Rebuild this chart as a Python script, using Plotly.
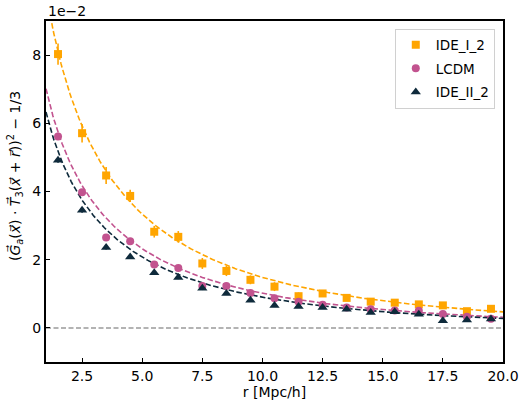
import numpy as np
import plotly.graph_objects as go

# Separation bins [Mpc/h]
r_bins = [1.5, 2.5, 3.5, 4.5, 5.5, 6.5, 7.5, 8.5, 9.5, 10.5,
          11.5, 12.5, 13.5, 14.5, 15.5, 16.5, 17.5, 18.5, 19.5]

# Alignment signal, in units of 1e-2
ide_i_2 = [8.03, 5.71, 4.47, 3.87, 2.82, 2.67, 1.89, 1.67, 1.41, 1.21,
           0.93, 1.01, 0.88, 0.77, 0.74, 0.69, 0.66, 0.49, 0.56]
ide_i_2_err = [0.31, 0.27, 0.25, 0.18, 0.17, 0.17, 0.16, 0.15, 0.13, 0.13,
               0.11, 0.10, 0.09, 0.09, 0.09, 0.09, 0.08, 0.08, 0.08]

lcdm = [5.61, 3.98, 2.65, 2.54, 1.86, 1.76, 1.23, 1.23, 1.02, 0.87,
        0.77, 0.68, 0.60, 0.55, 0.51, 0.50, 0.41, 0.33, 0.27]
lcdm_err = [0.08, 0.07, 0.06, 0.05, 0.05, 0.05, 0.05, 0.04, 0.04, 0.04,
            0.04, 0.04, 0.04, 0.04, 0.04, 0.04, 0.04, 0.04, 0.04]

ide_ii_2 = [4.92, 3.45, 2.36, 2.08, 1.62, 1.48, 1.16, 1.01, 0.81, 0.66,
            0.63, 0.60, 0.55, 0.45, 0.47, 0.40, 0.21, 0.23, 0.26]
ide_ii_2_err = [0.08, 0.07, 0.06, 0.05, 0.05, 0.05, 0.05, 0.04, 0.04, 0.04,
                0.04, 0.04, 0.04, 0.04, 0.04, 0.04, 0.04, 0.04, 0.04]

# Fitted model  A * exp(-B * sqrt(r))  (A in units of 1e-2)
fit_amp = {"IDE_I_2": 23.7, "LCDM": 17.17, "IDE_II_2": 15.6}
fit_rate = {"IDE_I_2": 0.877, "LCDM": 0.895, "IDE_II_2": 0.902}

x_ticks = [2.5, 5.0, 7.5, 10.0, 12.5, 15.0, 17.5, 20.0]
y_ticks = [0, 2, 4, 6, 8]

SCALE = 1e-2
colors = {"IDE_I_2": "#FFA500", "LCDM": "#C2538F", "IDE_II_2": "#0E2A3B"}
symbols = {"IDE_I_2": "square", "LCDM": "circle", "IDE_II_2": "triangle-up"}
sizes = {"IDE_I_2": 8, "LCDM": 8, "IDE_II_2": 9}
series = [("IDE_I_2", ide_i_2, ide_i_2_err),
          ("LCDM", lcdm, lcdm_err),
          ("IDE_II_2", ide_ii_2, ide_ii_2_err)]

fig = go.Figure()

# zero reference line
fig.add_trace(go.Scatter(x=[1, 20], y=[0, 0], mode="lines", showlegend=False,
                         line=dict(color="#9a9a9a", width=1.5, dash="5px,2.5px"),
                         hoverinfo="skip"))

r_fine = np.linspace(1, 20, 400)
for name, _, _ in series:
    model = fit_amp[name] * np.exp(-fit_rate[name] * np.sqrt(r_fine)) * SCALE
    fig.add_trace(go.Scatter(x=r_fine, y=model, mode="lines", showlegend=False,
                             line=dict(color=colors[name], width=1.6,
                                       dash="5.5px,2.5px"),
                             hoverinfo="skip"))

for i, (name, vals, errs) in enumerate(series):
    fig.add_trace(go.Scatter(
        x=r_bins, y=np.array(vals) * SCALE, mode="markers", name=name,
        legendgroup=f"g{i}",
        marker=dict(symbol=symbols[name], size=sizes[name], color=colors[name],
                    line=dict(width=0)),
        error_y=dict(type="data", array=np.array(errs) * SCALE, width=0,
                     thickness=1.6, color=colors[name]),
    ))

font = "DejaVu Sans, sans-serif"
fig.update_layout(
    width=525, height=401,
    margin=dict(l=46, r=22, t=21, b=39),
    paper_bgcolor="white", plot_bgcolor="white",
    font=dict(family=font, size=14, color="black"),
    showlegend=True,
    legend=dict(x=0.982, y=0.978, xanchor="right", yanchor="top",
                bgcolor="rgba(255,255,255,0.85)", bordercolor="#d0d0d0",
                borderwidth=1, font=dict(size=13.5), tracegroupgap=3,
                itemwidth=30),
    xaxis=dict(range=[1, 20], tickvals=x_ticks,
               ticktext=[f"{v:.1f}" for v in x_ticks],
               ticks="inside", ticklen=4, tickwidth=1, tickcolor="black",
               showline=True, linewidth=2, linecolor="black", mirror=True,
               showgrid=False, zeroline=False, automargin=False,
               title=dict(text="r [Mpc/h]", standoff=2, font=dict(size=14))),
    yaxis=dict(range=[-1 * SCALE, 9 * SCALE],
               tickvals=[v * SCALE for v in y_ticks],
               ticktext=[str(v) for v in y_ticks],
               ticks="inside", ticklen=4, tickwidth=1, tickcolor="black",
               showline=True, linewidth=2, linecolor="black", mirror=True,
               showgrid=False, zeroline=False, automargin=False),
    annotations=[
        dict(text="1e\u22122", x=0, y=1, xref="paper", yref="paper",
             xanchor="left", yanchor="bottom", showarrow=False,
             font=dict(size=14)),
        dict(text="(<i>G\u20d7</i><sub><i>a</i></sub>(<i>x\u20d7</i>) \u00b7 "
                  "<i>T\u20d7</i><sub>3</sub>(<i>x\u20d7</i> + <i>r\u20d7</i>))"
                  "<sup>2</sup> \u2212 1/3",
             x=-0.068, y=0.545, xref="paper", yref="paper",
             xanchor="center", yanchor="middle", textangle=-90,
             showarrow=False, font=dict(size=14)),
    ],
)

fig.write_html("out.html")
